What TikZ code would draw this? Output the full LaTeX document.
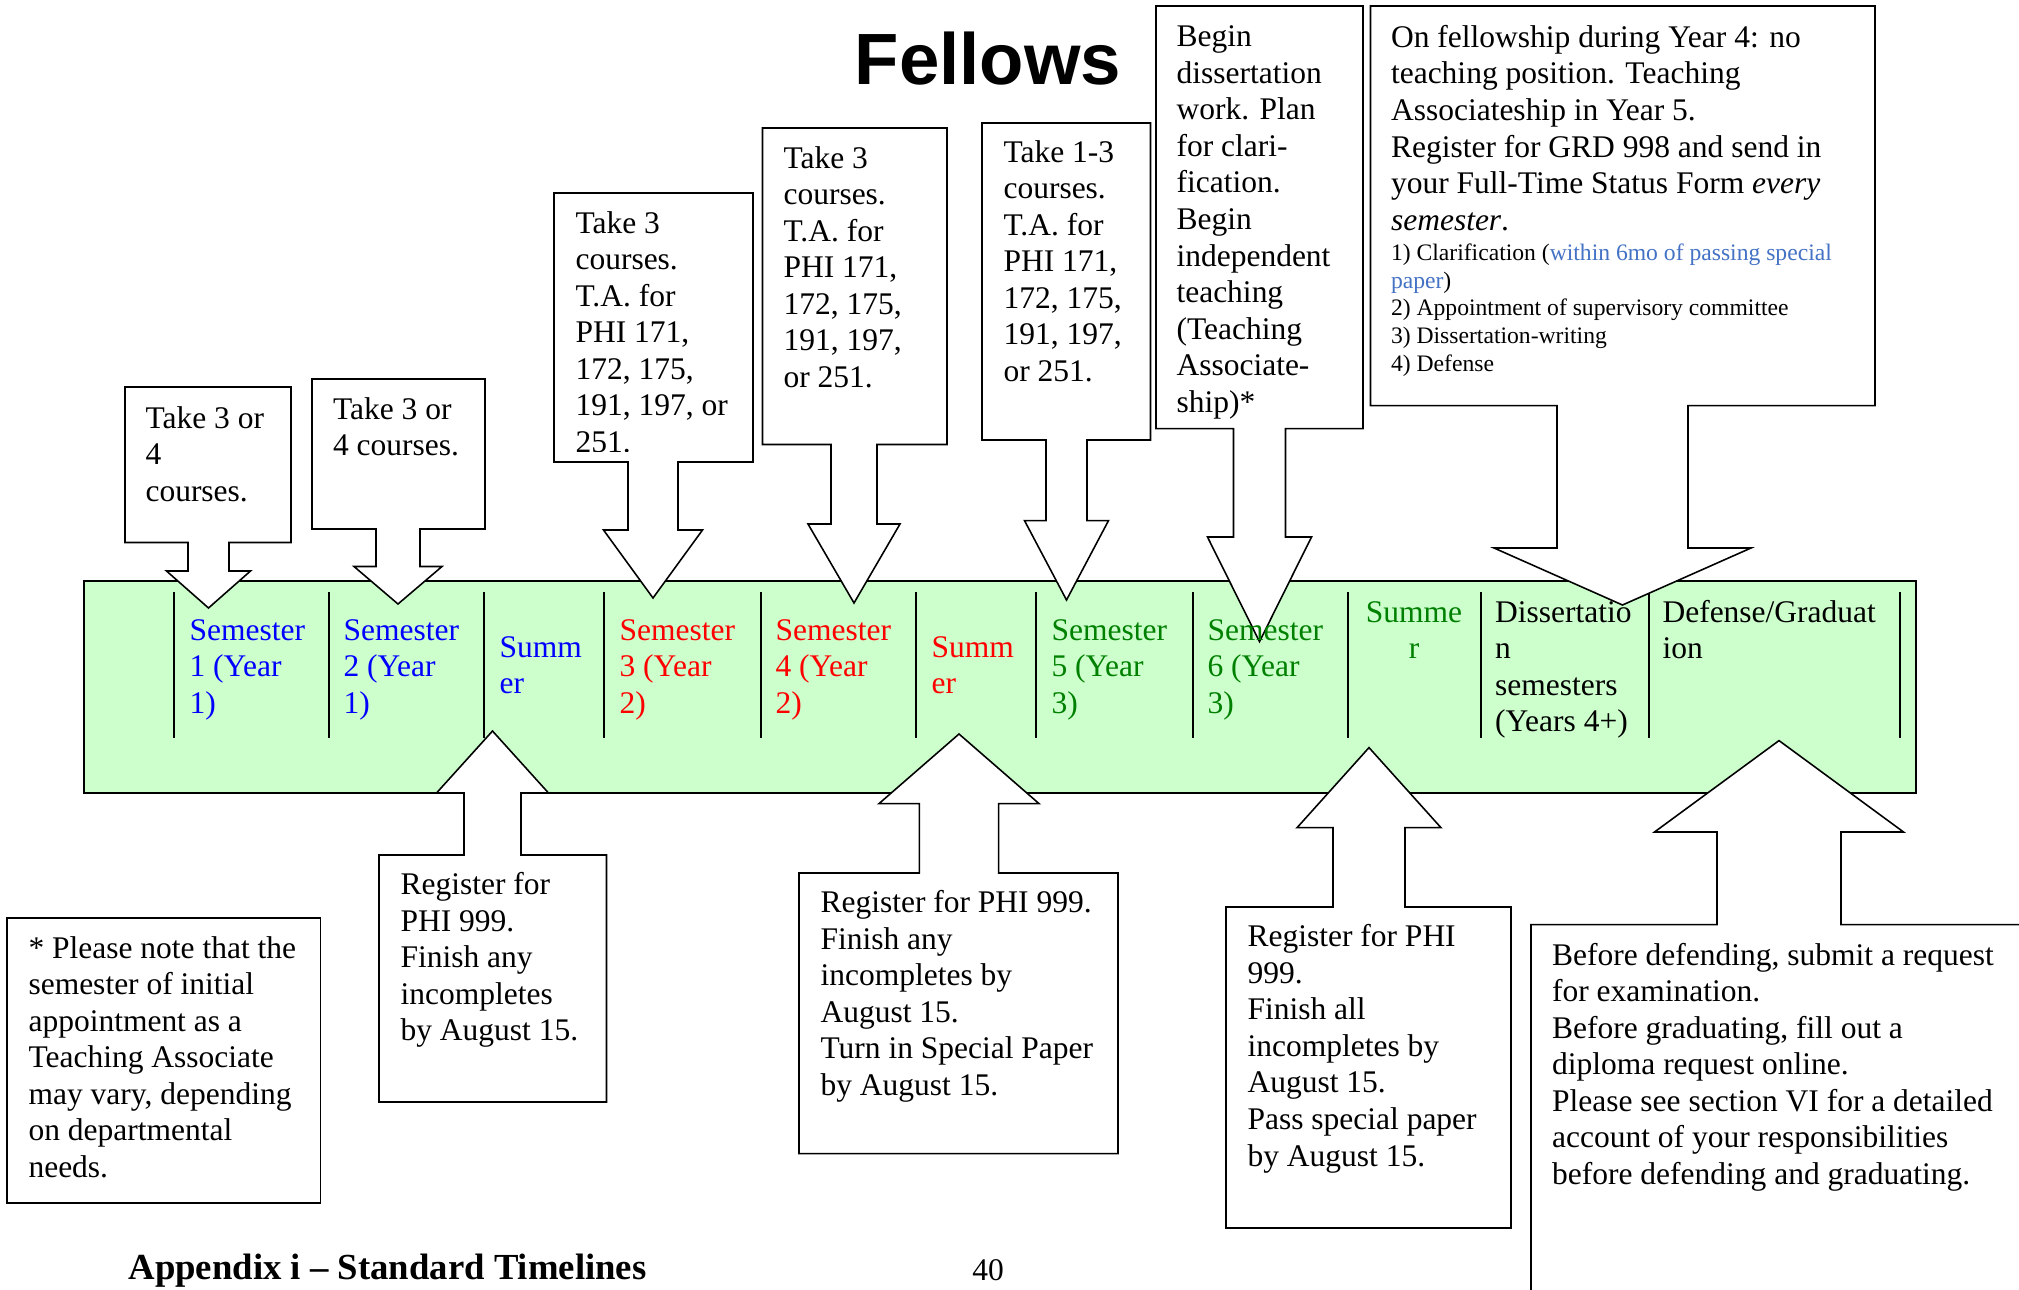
\documentclass[tikz,border=0pt]{standalone}
\usepackage{fontspec}
\setmainfont{Liberation Serif}
\newfontfamily\titlefont{Liberation Sans}
\definecolor{bandgreen}{RGB}{204,255,204}
\definecolor{semblue}{RGB}{0,0,255}
\definecolor{semred}{RGB}{255,0,0}
\definecolor{semgreen}{RGB}{0,128,0}
\definecolor{linkblue}{RGB}{68,114,196}
\newcommand{\tl}[1]{\begin{tabular}[t]{@{}l@{}}#1\end{tabular}}
\newcommand{\tc}[1]{\begin{tabular}[t]{@{}c@{}}#1\end{tabular}}
% down callout: L,T,R,B, center, stem half width, wing y, wing half width, tip y
\newcommand{\dcall}[9]{%
  \draw[callout] (#1,#2) -- (#3,#2) -- (#3,#4) -- ({#5+#6},#4) -- ({#5+#6},#7) -- ({#5+#8},#7)
    -- (#5,#9) -- ({#5-#8},#7) -- ({#5-#6},#7) -- ({#5-#6},#4) -- (#1,#4) -- cycle;}
% up callout: L,T,R,B, center, stem half width, wing y, wing half width, tip y
\newcommand{\ucall}[9]{%
  \draw[callout] (#1,#4) -- (#3,#4) -- (#3,#2) -- ({#5+#6},#2) -- ({#5+#6},#7) -- ({#5+#8},#7)
    -- (#5,#9) -- ({#5-#8},#7) -- ({#5-#6},#7) -- ({#5-#6},#2) -- (#1,#2) -- cycle;}
\begin{document}
\begin{tikzpicture}[x=0.381pt,y=-0.381pt,
  callout/.style={draw=black, fill=white, line width=0.6pt, line join=miter},
  divline/.style={draw=black, line width=0.6pt},
  txt/.style={anchor=base west, inner sep=0pt, font=\fontsize{12}{13.94}\selectfont},
  ctxt/.style={anchor=base, inner sep=0pt, font=\fontsize{12}{13.94}\selectfont},
  smalltxt/.style={anchor=base west, inner sep=0pt, font=\fontsize{9}{10.52}\selectfont}]
\useasboundingbox (0,0) rectangle (2019,1290);
\clip (0,0) rectangle (2019,1290);

% title
\node[anchor=base, inner sep=0pt] (title) at (988,84) {\titlefont\bfseries\fontsize{27.66}{30}\selectfont Fellows};

% timeline band
\draw[fill=bandgreen, line width=0.7pt] (84,581) rectangle (1916,793);
\foreach \x in {174,329,484,604,761,916,1036,1193,1348,1481,1649,1900}
  \draw[divline] (\x,592) -- (\x,738);

% callouts above
\dcall{125}{387}{291}{542.5}{208.5}{20.5}{571}{42}{608}
\dcall{312}{379}{485}{529}{398}{22}{566.5}{44}{604}
\dcall{554}{193}{753}{462}{653}{25}{530}{49.5}{598}
\dcall{762.5}{128}{947}{444.5}{854}{23}{524}{46}{603}
\dcall{982}{123}{1150.5}{440}{1066.5}{20.5}{520.6}{42}{600}
\dcall{1156}{6}{1363}{428.6}{1259.5}{26}{537}{52}{641.6}
\dcall{1370.5}{6}{1875}{405.7}{1622.5}{65.5}{548}{128.5}{605}

% callouts below
\ucall{379}{855}{606.5}{1102}{492.5}{28.5}{793}{56}{731}
\ucall{799}{873}{1118}{1153.6}{959}{39.7}{803.6}{80}{734}
\ucall{1226}{907}{1511}{1228}{1369}{36}{827.7}{72}{747.6}
\ucall{1531}{924.6}{2060}{1330}{1779}{62}{832}{124.5}{740.6}

% note box
\draw[callout] (7,918) rectangle (320.5,1202.7);

% cell texts
\node[txt, text=semblue] (s1) at (189,640) {\tl{Semester\\1 (Year\\1)}};
\node[txt, text=semblue] (s2) at (343,640) {\tl{Semester\\2 (Year\\1)}};
\node[txt, text=semblue] (su1) at (499,657) {\tl{Summ\\er}};
\node[txt, text=semred] (s3) at (619,640) {\tl{Semester\\3 (Year\\2)}};
\node[txt, text=semred] (s4) at (775,640) {\tl{Semester\\4 (Year\\2)}};
\node[txt, text=semred] (su2) at (931,657) {\tl{Summ\\er}};
\node[txt, text=semgreen] (s5) at (1051,640) {\tl{Semester\\5 (Year\\3)}};
\node[txt, text=semgreen] (s6) at (1207,640) {\tl{Semester\\6 (Year\\3)}};
\node[ctxt, text=semgreen] (su3) at (1414,622) {\tc{Summe\\r}};
\node[txt] (diss) at (1494.6,622) {\tl{Dissertatio\\n\\semesters\\(Years 4+)}};
\node[txt] (def) at (1662,622) {\tl{Defense/Graduat\\ion}};

% callout texts above
\node[txt] (t1) at (145,428) {\tl{Take 3 or\\4\\courses.}};
\node[txt] (t2) at (332.5,419) {\tl{Take 3 or\\4 courses.}};
\begin{scope}
\clip (554,193) rectangle (753,451);
\node[txt] (t3) at (575,233) {\tl{Take 3\\courses.\\T.A. for\\PHI 171,\\172, 175,\\191, 197, or\\251.}};
\end{scope}
\node[txt] (t4) at (783,168) {\tl{Take 3\\courses.\\T.A. for\\PHI 171,\\172, 175,\\191, 197,\\or 251.}};
\node[txt] (t5) at (1003,162) {\tl{Take 1-3\\courses.\\T.A. for\\PHI 171,\\172, 175,\\191, 197,\\or 251.}};
\node[txt] (t6) at (1176,46.6) {\tl{Begin\\dissertation\\work. Plan\\for clari-\\fication.\\Begin\\independent\\teaching\\(Teaching\\Associate-\\ship)*}};
\node[txt] (t7) at (1390.5,47.4) {\tl{On fellowship during Year 4: no\\teaching position. Teaching\\Associateship in Year 5.\\Register for GRD 998 and send in\\your Full-Time Status Form \textit{every}\\\textit{semester}.}};
\node[smalltxt] (t7b) at (1390.5,260.7) {\tl{1) Clarification (\textcolor{linkblue}{within 6mo of passing special}\\\textcolor{linkblue}{paper})\\2) Appointment of supervisory committee\\3) Dissertation-writing\\4) Defense}};

% callout texts below
\node[txt] (b1) at (400,894.5) {\tl{Register for\\PHI 999.\\Finish any\\incompletes\\by August 15.}};
\node[txt] (b2) at (820,912.6) {\tl{Register for PHI 999.\\Finish any\\incompletes by\\August 15.\\Turn in Special Paper\\by August 15.}};
\node[txt] (b3) at (1247,946.5) {\tl{Register for PHI\\999.\\Finish all\\incompletes by\\August 15.\\Pass special paper\\by August 15.}};
\node[txt] (b4) at (1551.6,965) {\tl{Before defending, submit a request\\for examination.\\Before graduating, fill out a\\diploma request online.\\Please see section VI for a detailed\\account of your responsibilities\\before defending and graduating.}};
\node[txt] (note) at (28,958) {\tl{* Please note that the\\semester of initial\\appointment as a\\Teaching Associate\\may vary, depending\\on departmental\\needs.}};

% footer
\node[anchor=base west, inner sep=0pt, font=\bfseries\fontsize{14}{16}\selectfont] (foot) at (128,1279) {Appendix i -- Standard Timelines};
\node[anchor=base, inner sep=0pt, font=\fontsize{12}{14}\selectfont] (page) at (988,1280) {40};
\end{tikzpicture}
\end{document}
